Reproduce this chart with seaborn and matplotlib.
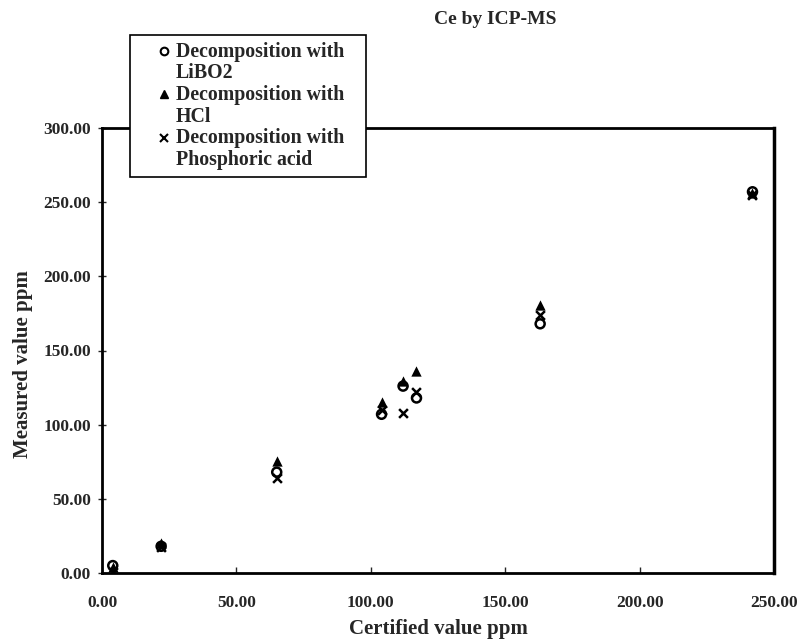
import matplotlib
matplotlib.use("Agg")
import matplotlib.pyplot as plt
from matplotlib.lines import Line2D
from matplotlib.legend_handler import HandlerLine2D
import numpy as np
import pandas as pd
import seaborn as sns

# Ce measured by ICP-MS against certified values, three decomposition routes
certified = [4, 22, 65, 104, 112, 117, 163, 242]
libo2 = [5, 18, 68, 107, 126, 118, 168, 257]
hcl = [4, 20.5, 75.5, 115, 129.5, 136, 181, 256]
phosphoric = [1, 17.5, 64, 110, 108, 122, 174, 255]

series_names = ["Decomposition with\nLiBO2",
                "Decomposition with\nHCl",
                "Decomposition with\nPhosphoric acid"]
x_ticks = [0, 50, 100, 150, 200, 250]
y_ticks = [0, 50, 100, 150, 200, 250, 300]

sns.set_theme(style="white")
plt.rcParams["font.family"] = ["Liberation Serif", "DejaVu Serif"]
plt.rcParams["font.weight"] = "bold"

df = pd.DataFrame({
    "certified": certified * 3,
    "measured": libo2 + hcl + phosphoric,
    "method": sum([[n] * len(certified) for n in series_names], []),
})

fig = plt.figure(figsize=(8.01, 6.42), dpi=100)
fig.patch.set_facecolor("white")
ax = fig.add_axes([102 / 801, 1 - 573 / 642, 672 / 801, 445 / 642])

styles = {
    series_names[0]: dict(marker="o", s=42, facecolors="none",
                          edgecolors="black", linewidths=1.8),
    series_names[1]: dict(marker="^", s=55, color="black", linewidths=0),
    series_names[2]: dict(marker="x", s=40, color="black", linewidths=1.8),
}
for name in series_names:
    sub = df[df["method"] == name]
    sns.scatterplot(data=sub, x="certified", y="measured", ax=ax,
                    legend=False, zorder=3, **styles[name])

ax.set_xlim(0, 250)
ax.set_ylim(0, 300)
ax.set_xticks(x_ticks)
ax.set_yticks(y_ticks)
ax.set_xticklabels([f"{v:.2f}" for v in x_ticks])
ax.set_yticklabels([f"{v:.2f}" for v in y_ticks])
ax.tick_params(axis="x", direction="in", length=4, width=1, pad=16,
               labelsize=12.5, bottom=True)
ax.tick_params(axis="y", direction="inout", length=6, width=1, pad=5,
               labelsize=12.5, left=True)
for lab in ax.get_xticklabels() + ax.get_yticklabels():
    lab.set_fontweight("bold")

for side in ["left", "bottom", "top", "right"]:
    ax.spines[side].set_visible(True)
    ax.spines[side].set_color("black")
    ax.spines[side].set_linewidth(2)
ax.spines["right"].set_linewidth(2.5)
ax.grid(False)
ax.set_facecolor("white")

ax.set_xlabel("Certified value ppm", fontsize=15, fontweight="bold")
ax.set_ylabel("Measured value ppm", fontsize=15, fontweight="bold")
ax.xaxis.set_label_coords(0.5, -(619 - 573) / 445)
ax.yaxis.set_label_coords(-(102 - 33) / 672, 0.47)

fig.text(495 / 801, 1 - 20 / 642, "Ce by ICP-MS", ha="center", va="center",
         fontsize=14, fontweight="bold")


class FirstLineHandler(HandlerLine2D):
    """Place the legend marker beside the first line of a two-line label."""

    def create_artists(self, legend, orig_handle, xdescent, ydescent,
                       width, height, fontsize, trans):
        artists = super().create_artists(legend, orig_handle, xdescent,
                                         ydescent, width, height, fontsize,
                                         trans)
        for a in artists:
            a.set_ydata(np.asarray(a.get_ydata()) + fontsize * 0.6)
        return artists


handles = [
    Line2D([], [], linestyle="none", marker="o", markersize=5.5,
           markerfacecolor="none", markeredgecolor="black",
           markeredgewidth=1.5),
    Line2D([], [], linestyle="none", marker="^", markersize=6,
           color="black"),
    Line2D([], [], linestyle="none", marker="x", markersize=5.5,
           color="black", markeredgewidth=1.5),
]
leg = ax.legend(handles, series_names, loc="upper left", mode="expand",
                bbox_to_anchor=(130 / 801, 1 - 176 / 642, 236 / 801,
                                141 / 642),
                bbox_transform=fig.transFigure,
                prop={"family": "Liberation Serif", "weight": "bold",
                      "size": 14.3},
                frameon=True, fancybox=False, shadow=False, framealpha=1,
                edgecolor="black", borderpad=0.35, labelspacing=0.08,
                handlelength=2.7, handletextpad=-0.75, borderaxespad=0,
                handler_map={h: FirstLineHandler() for h in handles})
leg.get_frame().set_linewidth(1.2)
leg.set_zorder(10)
for t in leg.get_texts():
    t.set_linespacing(1.1)

fig.savefig("out.png", dpi=100, facecolor="white")
